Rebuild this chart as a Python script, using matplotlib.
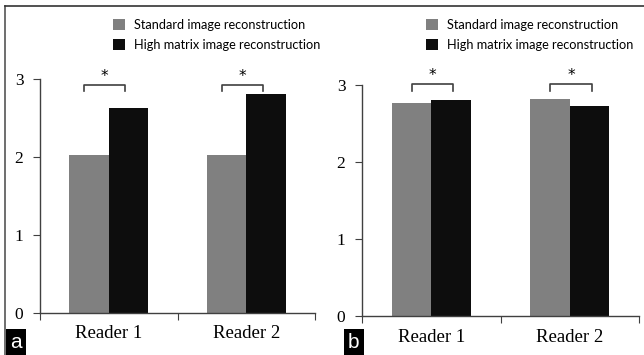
import matplotlib
matplotlib.use('Agg')
import numpy as np
from matplotlib import pyplot as plt
from matplotlib.patches import Patch
from matplotlib.lines import Line2D

readers = ['Reader 1', 'Reader 2']
series = ['Standard image reconstruction', 'High matrix image reconstruction']
a_standard = [2.02, 2.02]
a_high = [2.63, 2.81]
b_standard = [2.76, 2.82]
b_high = [2.81, 2.73]
yticks = [0, 1, 2, 3]
panel_labels = ['a', 'b']

gray = '#808080'
black = '#0d0d0d'
spine = '#404040'

fig = plt.figure(figsize=(6.44, 3.55), dpi=100)
W, H = 644, 355


def px(x0, y0, x1, y1):
    return [x0 / W, 1 - y1 / H, (x1 - x0) / W, (y1 - y0) / H]


def panel(rect, std, high, br_y, br_leg, br_off, leg_x, label_box, name):
    ax = fig.add_axes(rect)
    x = np.arange(len(readers))
    w = 0.287
    ax.bar(x - w / 2, std, w, color=gray, edgecolor='none')
    ax.bar(x + w / 2, high, w, color=black, edgecolor='none')
    ax.set_xlim(-0.5, len(readers) - 0.5)
    ax.set_ylim(0, 3)
    for s in ['top', 'right']:
        ax.spines[s].set_visible(False)
    for s in ['left', 'bottom']:
        ax.spines[s].set_color(spine)
        ax.spines[s].set_linewidth(1.0)
    ax.set_yticks(yticks)
    ax.set_yticklabels([str(t) for t in yticks], family='Liberation Serif', fontsize=12.5)
    ax.tick_params(axis='y', direction='out', length=5, color=spine, pad=7)
    ax.set_xticks(np.arange(len(readers) + 1) - 0.5)
    ax.set_xticklabels([])
    ax.tick_params(axis='x', direction='out', length=5, color=spine)
    ax.set_xticks(x, minor=True)
    ax.set_xticklabels(readers, minor=True, family='Liberation Serif', fontsize=13.5)
    ax.tick_params(axis='x', which='minor', length=0, pad=9)
    # significance brackets
    for xi in x:
        c = xi + br_off
        ax.plot([c - 0.15, c - 0.15, c + 0.15, c + 0.15],
                [br_leg, br_y, br_y, br_leg], color=spine, lw=1.2, clip_on=False)
        ax.text(c, br_y + 0.02, '*', ha='center', va='bottom', fontsize=11,
                family='DejaVu Sans', clip_on=False)
    handles = [Patch(facecolor=gray), Patch(facecolor=black)]
    fig.legend(handles, series, loc='upper left',
               bbox_to_anchor=(leg_x / W, 1 - 19 / H), frameon=False,
               prop={'family': 'Lato', 'size': 9.2},
               handlelength=0.9, handleheight=0.9, handletextpad=0.75,
               labelspacing=0.6, borderaxespad=0, borderpad=0)
    lx, ly = label_box
    fig.text(lx / W, 1 - ly / H, name,
             color='white', fontsize=15, family='Liberation Sans',
             ha='left', va='bottom',
             bbox=dict(facecolor='black', edgecolor='none', pad=3))
    return ax


panel(px(40, 79, 315, 313), a_standard, a_high, 2.92, 2.84, -0.03, 113,
      (10, 352), panel_labels[0])
panel(px(362, 85, 639, 316), b_standard, b_high, 3.01, 2.92, 0.01, 426,
      (348, 352), panel_labels[1])

# outer frame
fig.add_artist(Line2D([5 / W, 5 / W], [0, 1 - 6 / H], color='#555555', lw=1.2))
fig.add_artist(Line2D([5 / W, 1], [1 - 6 / H, 1 - 6 / H], color='#333333', lw=1.2))

fig.savefig('out.png', dpi=100)
